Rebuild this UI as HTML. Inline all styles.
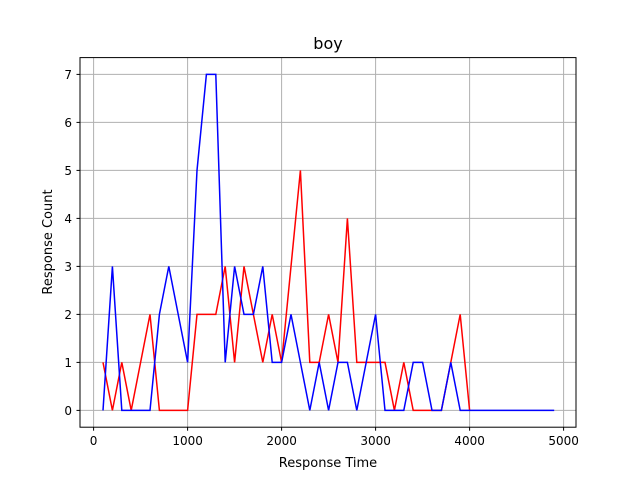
<!DOCTYPE html>
<html><head><meta charset="utf-8"><style>
body{margin:0;background:#fff;}
svg text{font-family:"DejaVu Sans","Liberation Sans",sans-serif;fill:#000;}
</style></head><body>
<svg id="chart" width="640" height="480" xmlns="http://www.w3.org/2000/svg">
<rect width="640" height="480" fill="#fff"/>
<g id="grid"></g>
<g id="series"></g>
<rect x="80" y="57.6" width="496" height="369.6" fill="none" stroke="#000" stroke-width="1"/>
<g id="ticks"></g>
<text x="328" y="49" font-size="16" text-anchor="middle">boy</text>
<text x="328" y="467" font-size="13" text-anchor="middle">Response Time</text>
<text transform="translate(52,242) rotate(-90)" font-size="13" text-anchor="middle">Response Count</text>
</svg>
<script>
const xValues=[100,200,300,400,500,600,700,800,900,1000,1100,1200,1300,1400,1500,1600,1700,1800,1900,2000,2100,2200,2300,2400,2500,2600,2700,2800,2900,3000,3100,3200,3300,3400,3500,3600,3700,3800,3900,4000];
const redValues=[1,0,1,0,1,2,0,0,0,0,2,2,2,3,1,3,2,1,2,1,3,5,1,1,2,1,4,1,1,1,1,0,1,0,0,0,0,1,2,0];
const blueX=[100,200,300,400,500,600,700,800,900,1000,1100,1200,1300,1400,1500,1600,1700,1800,1900,2000,2100,2200,2300,2400,2500,2600,2700,2800,2900,3000,3100,3200,3300,3400,3500,3600,3700,3800,3900,4000,4100,4200,4300,4400,4500,4600,4700,4800,4900];
const blueValues=[0,3,0,0,0,0,2,3,2,1,5,7,7,1,3,2,2,3,1,1,2,1,0,1,0,1,1,0,1,2,0,0,0,1,1,0,0,1,0,0,0,0,0,0,0,0,0,0,0];
const xTicks=[0,1000,2000,3000,4000,5000];
const yTicks=[0,1,2,3,4,5,6,7];
const X=v=>93.6+v*0.0940;
const Y=v=>410.4-v*48.0;
const NS="http://www.w3.org/2000/svg";
const grid=document.getElementById('grid'),ticks=document.getElementById('ticks'),ser=document.getElementById('series');
function mk(tag,attrs,parent){const e=document.createElementNS(NS,tag);for(const k in attrs)e.setAttribute(k,attrs[k]);parent.appendChild(e);return e;}
xTicks.forEach(t=>{
 const g=mk('line',{x1:X(t),x2:X(t),y1:57.6,y2:427.2,stroke:'#b0b0b0','stroke-width':1},grid);
 
 
 const tk=mk('line',{x1:X(t),x2:X(t),y1:427.2,y2:430.7,stroke:'#000'},ticks);
 
 
 const tx=mk('text',{x:X(t),y:445,'font-size':12,'text-anchor':'middle'},ticks);
 tx.textContent=t;
 
 
});
yTicks.forEach(t=>{
 const g=mk('line',{x1:80,x2:576,y1:Y(t),y2:Y(t),stroke:'#b0b0b0','stroke-width':1},grid);
 
 
 const tk=mk('line',{x1:76.5,x2:80,y1:Y(t),y2:Y(t),stroke:'#000'},ticks);
 
 
 const tx=mk('text',{x:72,y:Y(t)+4.5,'font-size':12,'text-anchor':'end'},ticks);
 tx.textContent=t;
 
 
});
const r=mk('polyline',{points:xValues.map((x,i)=>X(x)+','+Y(redValues[i])).join(' '),fill:'none',stroke:'#ff0000','stroke-width':1.5},ser);


const b=mk('polyline',{points:blueX.map((x,i)=>X(x)+','+Y(blueValues[i])).join(' '),fill:'none',stroke:'#0000ff','stroke-width':1.5},ser);


</script>
</body></html>
